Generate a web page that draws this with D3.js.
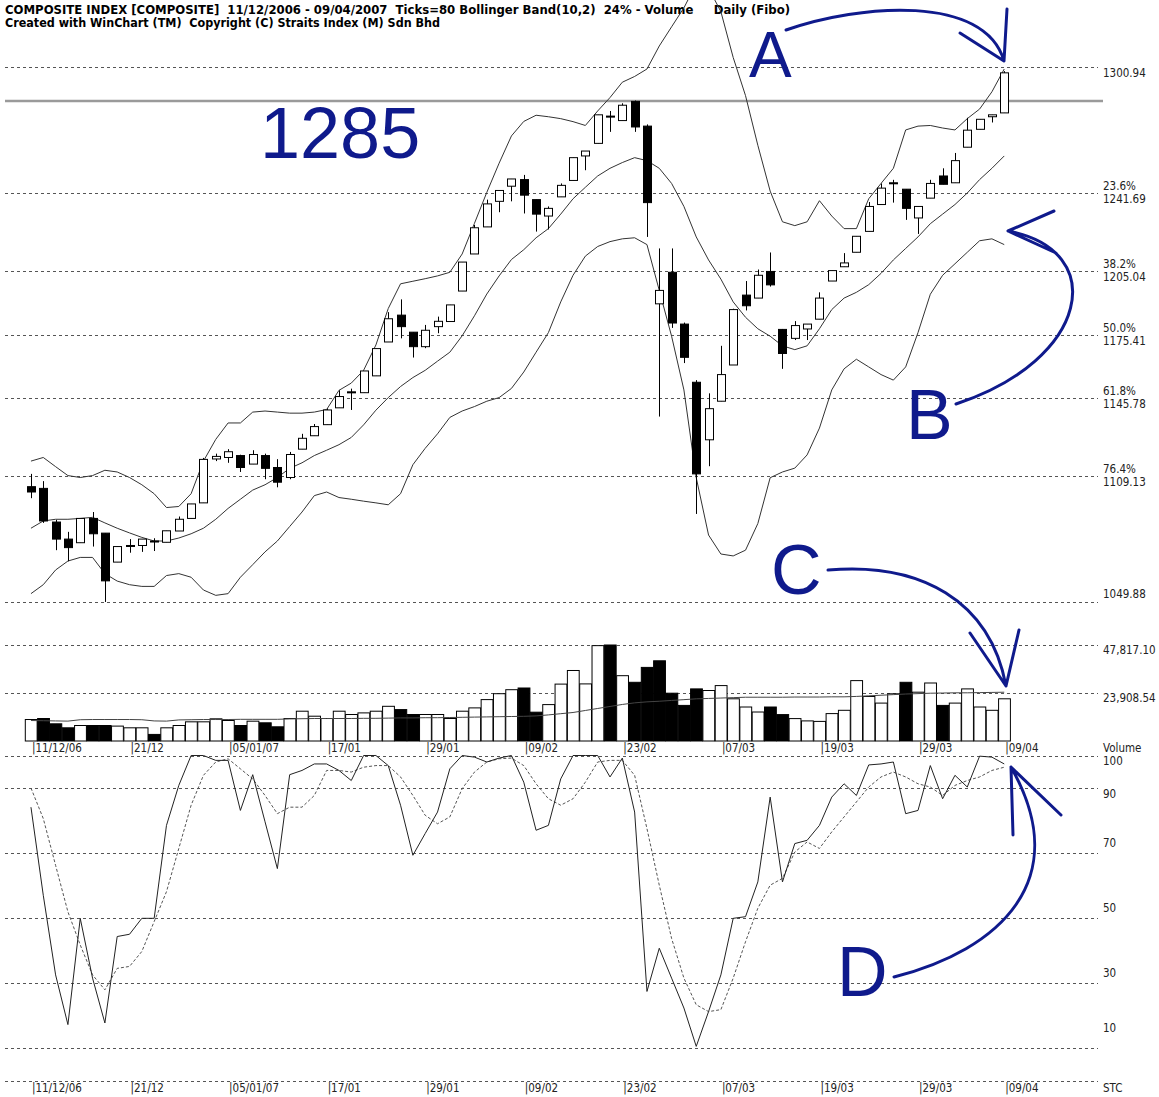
<!DOCTYPE html>
<html>
<head>
<meta charset="utf-8">
<script src="https://cdn.jsdelivr.net/npm/d3@7"></script>
<style>
body { margin: 0; background: #fff; }
svg { display: block; }
.lbl { font-family: "DejaVu Sans Condensed", "DejaVu Sans", sans-serif; font-stretch: condensed; font-size: 11.5px; fill: #222; }
.hdr { font-family: "DejaVu Sans Condensed", "DejaVu Sans", sans-serif; font-stretch: condensed; font-weight: bold; font-size: 11.5px; fill: #000; white-space: pre; }
.note { font-family: "Liberation Sans", Arial, sans-serif; fill: #0f1a8c; }
</style>
</head>
<body>
<script>
// trading days shown on the chart
var dates = ["2006-12-11","2006-12-12","2006-12-13","2006-12-14","2006-12-15","2006-12-18","2006-12-19","2006-12-20","2006-12-21","2006-12-22",
  "2006-12-26","2006-12-27","2006-12-28","2006-12-29","2007-01-03","2007-01-04","2007-01-05","2007-01-08","2007-01-09","2007-01-10",
  "2007-01-11","2007-01-12","2007-01-15","2007-01-16","2007-01-17","2007-01-18","2007-01-19","2007-01-22","2007-01-23","2007-01-24",
  "2007-01-25","2007-01-26","2007-01-29","2007-01-30","2007-01-31","2007-02-02","2007-02-05","2007-02-06","2007-02-07","2007-02-08",
  "2007-02-09","2007-02-12","2007-02-13","2007-02-14","2007-02-15","2007-02-16","2007-02-21","2007-02-22","2007-02-23","2007-02-26",
  "2007-02-27","2007-02-28","2007-03-01","2007-03-02","2007-03-05","2007-03-06","2007-03-07","2007-03-08","2007-03-09","2007-03-12",
  "2007-03-13","2007-03-14","2007-03-15","2007-03-16","2007-03-19","2007-03-20","2007-03-21","2007-03-22","2007-03-23","2007-03-26",
  "2007-03-27","2007-03-28","2007-03-29","2007-03-30","2007-04-02","2007-04-03","2007-04-04","2007-04-05","2007-04-06","2007-04-09"];

var open = [1104.0,1103.2,1087.4,1079.4,1077.7,1089.1,1082.2,1068.6,1076.0,1076.4,
  1078.5,1077.9,1083.2,1089.1,1096.4,1117.0,1117.7,1118.6,1114.6,1118.6,
  1113.0,1108.3,1121.6,1127.9,1133.1,1141.0,1148.5,1148.1,1156.0,1171.9,
  1184.5,1176.5,1169.7,1179.1,1181.5,1195.8,1213.2,1225.9,1237.9,1245.0,
  1248.1,1238.7,1231.0,1240.0,1247.7,1259.2,1265.1,1277.9,1275.8,1284.8,
  1273.2,1189.8,1204.6,1180.3,1153.0,1126.0,1144.1,1161.1,1193.9,1192.5,
  1205.0,1177.8,1173.6,1178.0,1182.6,1200.5,1207.2,1214.0,1223.8,1236.4,
  1246.6,1243.6,1230.1,1239.4,1249.8,1246.6,1263.3,1271.7,1277.6,1279.4];
var high = [1110.0,1106.6,1088.4,1082.8,1089.1,1092.1,1082.2,1075.9,1079.4,1079.4,
  1079.8,1083.3,1090.0,1095.9,1117.5,1119.5,1121.6,1119.0,1121.1,1119.5,
  1116.9,1120.3,1128.8,1133.4,1140.7,1149.2,1150.0,1158.3,1168.8,1185.9,
  1191.9,1176.5,1179.9,1183.8,1189.3,1209.4,1226.8,1238.7,1243.0,1248.4,
  1250.3,1238.7,1235.5,1246.3,1258.4,1261.5,1278.5,1280.3,1283.9,1285.2,
  1274.0,1215.8,1215.8,1181.0,1154.0,1147.8,1170.1,1187.5,1200.5,1205.9,
  1213.9,1178.0,1181.7,1180.3,1195.2,1205.4,1213.6,1221.5,1237.6,1246.3,
  1248.0,1243.6,1235.5,1248.0,1253.4,1260.6,1277.1,1276.4,1278.5,1299.0];
var low = [1098.6,1087.0,1074.2,1069.0,1077.7,1075.9,1049.9,1068.6,1073.0,1073.4,
  1073.8,1077.9,1083.2,1089.1,1096.4,1116.0,1115.2,1110.9,1114.6,1107.5,
  1103.7,1107.5,1121.6,1127.9,1133.1,1141.0,1140.0,1148.1,1156.0,1171.9,
  1173.6,1164.6,1169.0,1176.0,1181.5,1195.8,1213.2,1225.9,1232.8,1237.9,
  1232.2,1223.7,1224.7,1240.0,1247.7,1252.5,1265.1,1270.5,1275.8,1270.5,
  1221.2,1136.9,1178.5,1162.0,1091.2,1113.6,1144.1,1161.1,1186.7,1192.5,
  1197.9,1159.3,1172.8,1172.8,1182.6,1200.5,1207.2,1214.0,1223.8,1236.4,
  1237.3,1229.2,1222.6,1239.4,1245.9,1246.6,1263.3,1271.7,1274.9,1279.4];
var close = [1101.5,1087.9,1079.4,1075.4,1089.1,1081.9,1059.8,1075.9,1076.4,1079.4,
  1078.2,1083.3,1088.7,1095.9,1116.8,1118.2,1120.4,1113.0,1119.1,1112.6,
  1106.1,1119.1,1126.7,1132.2,1140.0,1146.3,1148.2,1158.3,1168.8,1182.8,
  1179.1,1169.7,1177.4,1181.6,1189.3,1209.4,1225.5,1236.7,1243.0,1248.4,
  1240.8,1231.9,1234.6,1245.4,1258.4,1261.5,1278.5,1277.6,1283.0,1272.8,
  1237.3,1196.1,1180.8,1164.7,1110.0,1140.6,1156.6,1187.1,1188.9,1203.2,
  1198.7,1166.5,1179.6,1180.3,1192.5,1205.4,1209.0,1221.5,1235.5,1244.1,
  1246.4,1234.6,1235.5,1246.3,1245.9,1257.0,1271.3,1276.4,1278.5,1298.2];

// Bollinger Band (10,2)
var bbUpper = [1116.0,1117.7,1113.4,1109.2,1108.3,1109.2,1111.7,1110.9,1108.3,1104.9,
  1100.7,1094.2,1094.7,1100.7,1116.0,1126.2,1133.9,1133.9,1139.0,1139.5,
  1139.0,1138.5,1138.5,1139.0,1140.2,1149.2,1152.6,1158.6,1170.5,1187.6,
  1199.2,1200.4,1201.6,1202.9,1204.6,1213.2,1227.6,1242.1,1255.8,1268.6,
  1275.4,1278.3,1277.6,1276.7,1275.3,1273.5,1280.3,1286.6,1293.8,1296.5,
  1300.0,1310.8,1319.8,1328.7,1340.0,1338.0,1326.9,1305.4,1287.5,1264.2,
  1242.7,1228.3,1226.5,1228.3,1238.2,1231.0,1225.1,1225.1,1239.1,1246.3,
  1253.4,1271.4,1273.2,1273.5,1272.3,1271.4,1276.7,1281.2,1289.3,1300.0];
var bbMid = [1084.5,1087.9,1088.7,1088.7,1089.1,1089.6,1087.0,1084.5,1082.3,1080.2,
  1078.5,1078.5,1079.9,1081.9,1084.5,1088.7,1093.8,1098.1,1102.4,1104.9,
  1108.3,1112.6,1115.2,1118.6,1121.1,1123.7,1127.1,1133.0,1139.9,1145.8,
  1151.0,1155.2,1158.6,1162.9,1167.1,1174.8,1184.2,1194.4,1202.9,1210.6,
  1215.2,1220.8,1225.1,1231.9,1239.1,1244.5,1249.8,1253.4,1256.1,1258.4,
  1257.0,1253.4,1246.3,1235.5,1221.2,1210.4,1201.4,1190.7,1183.5,1178.1,
  1174.6,1170.1,1168.3,1170.1,1178.1,1187.1,1192.5,1195.2,1198.8,1204.1,
  1210.4,1215.8,1221.2,1227.4,1231.9,1236.4,1241.8,1248.1,1253.4,1259.2];
var bbLower = [1053.8,1058.0,1064.9,1069.1,1070.8,1070.8,1063.2,1059.7,1058.0,1057.2,
  1057.2,1062.3,1063.2,1061.5,1055.5,1053.0,1053.8,1061.5,1067.4,1073.4,
  1078.5,1085.3,1092.1,1099.8,1101.5,1098.9,1098.1,1097.2,1096.4,1095.5,
  1100.7,1114.3,1122.0,1128.8,1136.5,1139.5,1141.6,1144.1,1145.8,1150.1,
  1157.8,1167.1,1176.3,1190.7,1203.2,1212.2,1216.7,1219.0,1220.3,1220.8,
  1217.6,1196.1,1174.6,1149.4,1108.2,1081.3,1072.4,1071.5,1074.2,1086.7,
  1108.2,1110.9,1112.7,1118.9,1131.5,1149.4,1159.3,1163.8,1160.2,1156.6,
  1154.0,1160.2,1176.3,1194.3,1203.2,1208.6,1214.0,1219.4,1220.3,1217.6];

var volume = [10700,11200,8560,6570,7720,7720,7720,7420,6570,6570,
  3280,6570,7720,9550,9550,11050,10210,7720,9870,9060,
  7070,11200,14840,12350,11200,14840,13200,14000,14840,17280,
  15640,13200,13200,13200,11200,14840,16490,20620,23560,25550,
  26400,14350,18130,28340,35120,28440,47500,47817,32530,29240,
  36660,39950,23810,17730,25950,25150,27600,21020,16930,14440,
  16930,13150,11160,10010,9760,13650,15290,30080,22170,18880,
  23510,29240,24310,28890,17730,18880,25950,16930,15290,21020];
var volumeMA = [10200,10100,10000,9900,10600,10700,10700,10700,10700,10600,
  10000,9900,10500,10600,10700,10700,10700,10800,10800,10800,
  10800,11000,11100,11200,11200,11200,11200,11300,11300,11400,
  11500,11500,11600,11600,11700,11800,11900,12000,12100,12200,
  12300,12500,13000,13600,14200,15200,16200,17200,18200,19000,
  19500,19800,20200,20600,21000,21200,21400,21600,21800,21800,
  21800,21800,21900,21900,21900,22000,22000,22200,22500,22800,
  23100,23400,23600,23800,23900,24000,24000,24100,24200,24300];

// STC (stochastic) %K and %D
var stcK = [84.1,57.0,32.5,17.2,49.9,31.5,17.7,44.3,45.0,49.9,
  49.9,78.5,90.8,100,100,98.5,98.5,83.1,94.1,79.6,
  65.2,94.1,95.4,97.4,97.4,95.4,92.3,100,100,96.9,
  84.7,69.3,76.0,82.6,95.9,100,99.5,98.0,99.2,100,
  91.8,77.0,78.5,92.8,100,100,100,93.4,99.2,82.6,
  27.4,40.7,31.5,22.3,10.5,21.2,32.5,49.9,50.4,61.1,
  87.2,61.1,72.9,73.9,78.5,87.2,91.3,87.7,97.1,97.4,
  98.0,82.1,83.1,96.9,86.7,93.9,90.3,99.8,99.5,97.4];
var stcD = [90.0,80.6,66.2,51.9,41.7,32.5,27.9,34.5,35.1,39.7,
  48.9,58.1,71.4,84.7,93.9,98.0,99.0,95.9,92.8,87.7,
  82.1,84.1,84.1,87.7,95.4,95.4,94.9,96.4,96.9,96.9,
  93.4,87.7,81.6,79.0,81.1,89.8,94.9,98.0,99.0,99.2,
  96.9,91.3,86.7,84.7,86.7,91.8,98.0,98.5,98.5,93.9,
  77.5,60.1,43.7,31.5,23.3,21.2,21.8,31.5,42.7,53.0,
  60.1,62.2,70.3,73.4,71.4,76.5,81.1,85.7,90.3,93.4,
  94.9,93.4,91.3,90.3,87.7,90.8,92.3,93.4,95.4,96.4];

var priceLevels = [1300.94, 1241.69, 1205.04, 1175.41, 1145.78, 1109.13, 1049.88];
var fiboPct = ["", "23.6%", "38.2%", "50.0%", "61.8%", "76.4%", ""];
var volLevels = [47817.10, 23908.54];
var volLevelText = ["47,817.10", "23,908.54"];
var stcLevels = [100, 90, 70, 50, 30, 10];
var tickDates = ["2006-12-11","2006-12-21","2007-01-05","2007-01-17","2007-01-29","2007-02-09","2007-02-23","2007-03-07","2007-03-19","2007-03-29","2007-04-09"];
var tickLabels = ["11/12/06","21/12","05/01/07","17/01","29/01","09/02","23/02","07/03","19/03","29/03","09/04"];
var markLevel = 1285;

var width = 1159, height = 1097;
var gridLeft = 5, gridRight = 1098, labelX = 1103;

var svg = d3.select("body").append("svg")
  .attr("width", width)
  .attr("height", height);

var x = d3.scaleBand().domain(dates).range([24.8, 1010.4]);
var bw = x.bandwidth();
function cx(d) { return x(d) + bw / 2; }

var yP = d3.scaleLinear().domain([1049.88, 1300.94]).range([602, 67]);
var yV = d3.scaleLinear().domain([0, 47817.10]).range([741, 645]);
var yS = d3.scaleLinear().domain([0, 100]).range([1080.5, 755.5]);

function hline(v, y) {
  var yy = Math.round(y) + 0.5;
  svg.append("line")
    .attr("x1", gridLeft).attr("x2", gridRight)
    .attr("y1", yy).attr("y2", yy)
    .attr("stroke", "#555")
    .attr("stroke-dasharray", "3,3");
}

// header
svg.append("text").attr("class", "hdr").attr("x", 5).attr("y", 14)
  .attr("xml:space", "preserve")
  .attr("textLength", 785).attr("lengthAdjust", "spacingAndGlyphs")
  .text("COMPOSITE INDEX [COMPOSITE]  11/12/2006 - 09/04/2007  Ticks=80 Bollinger Band(10,2)  24% - Volume     Daily (Fibo)");
svg.append("text").attr("class", "hdr").attr("x", 5).attr("y", 27)
  .attr("xml:space", "preserve")
  .attr("textLength", 435).attr("lengthAdjust", "spacingAndGlyphs")
  .text("Created with WinChart (TM)  Copyright (C) Straits Index (M) Sdn Bhd");

// price grid + fibo labels
priceLevels.forEach(function(v, i) {
  var y = yP(v);
  hline(v, y);
  if (i == priceLevels.length - 1) {
    svg.append("text").attr("class", "lbl").attr("x", labelX).attr("y", y - 4).text(v.toFixed(2));
  } else {
    if (fiboPct[i]) svg.append("text").attr("class", "lbl").attr("x", labelX).attr("y", y - 3).text(fiboPct[i]);
    svg.append("text").attr("class", "lbl").attr("x", labelX).attr("y", y + 10).text(v.toFixed(2));
  }
});

// 1285 resistance
svg.append("line")
  .attr("x1", gridLeft).attr("x2", labelX)
  .attr("y1", yP(markLevel)).attr("y2", yP(markLevel))
  .attr("stroke", "#9a9a9a").attr("stroke-width", 2.5);

// bollinger bands
var idx = d3.range(dates.length);
[bbUpper, bbMid, bbLower].forEach(function(s) {
  svg.append("path")
    .datum(idx)
    .attr("fill", "none")
    .attr("stroke", "#333")
    .attr("stroke-width", 1)
    .attr("d", d3.line().x(function(i) { return cx(dates[i]); }).y(function(i) { return yP(s[i]); }));
});

// candles
var candles = svg.append("g").selectAll("g").data(idx).enter().append("g");
candles.append("line")
  .attr("x1", function(i) { return Math.round(cx(dates[i])) + 0.5; })
  .attr("x2", function(i) { return Math.round(cx(dates[i])) + 0.5; })
  .attr("y1", function(i) { return yP(high[i]); })
  .attr("y2", function(i) { return yP(low[i]); })
  .attr("stroke", "#000");
candles.append("rect")
  .attr("x", function(i) { return Math.round(cx(dates[i])) - 3.5; })
  .attr("width", 8)
  .attr("y", function(i) { return yP(Math.max(open[i], close[i])); })
  .attr("height", function(i) { return Math.max(1, Math.abs(yP(open[i]) - yP(close[i]))); })
  .attr("fill", function(i) { return close[i] < open[i] ? "#000" : "#fff"; })
  .attr("stroke", "#000")
  .attr("stroke-width", 1);

// volume panel
volLevels.forEach(function(v, i) {
  hline(v, yV(v));
  svg.append("text").attr("class", "lbl").attr("x", labelX).attr("y", yV(v) + 9).text(volLevelText[i]);
});
svg.append("g").selectAll("rect").data(idx).enter().append("rect")
  .attr("x", function(i) { return x(dates[i]) + 0.5; })
  .attr("width", bw - 0.5)
  .attr("y", function(i) { return yV(volume[i]); })
  .attr("height", function(i) { return yV(0) - yV(volume[i]); })
  .attr("fill", function(i) { return i > 0 && close[i] < close[i - 1] ? "#000" : "#fff"; })
  .attr("stroke", "#000")
  .attr("stroke-width", 1);
svg.append("path")
  .datum(idx)
  .attr("fill", "none")
  .attr("stroke", "#444")
  .attr("d", d3.line().x(function(i) { return cx(dates[i]); }).y(function(i) { return yV(volumeMA[i]); }));

// date ticks (under volume and at bottom)
function dateLabels(yBase) {
  svg.append("g").selectAll("text").data(tickDates).enter().append("text")
    .attr("class", "lbl")
    .attr("x", function(d) { return cx(d) + 1; })
    .attr("y", yBase)
    .text(function(d, i) { return "|" + tickLabels[i]; });
}
dateLabels(752);
svg.append("text").attr("class", "lbl").attr("x", labelX).attr("y", 752).text("Volume");

// STC panel
var stcDy = [9.5, 10, -6, -6, -6, -16];
stcLevels.forEach(function(v, i) {
  hline(v, yS(v));
  svg.append("text").attr("class", "lbl").attr("x", labelX).attr("y", yS(v) + stcDy[i]).text(v);
});
hline(0, yS(0));
svg.append("path")
  .datum(idx)
  .attr("fill", "none")
  .attr("stroke", "#555")
  .attr("stroke-dasharray", "3,2")
  .attr("d", d3.line().x(function(i) { return cx(dates[i]); }).y(function(i) { return yS(stcD[i]); }));
svg.append("path")
  .datum(idx)
  .attr("fill", "none")
  .attr("stroke", "#222")
  .attr("d", d3.line().x(function(i) { return cx(dates[i]); }).y(function(i) { return yS(stcK[i]); }));
dateLabels(1092);
svg.append("text").attr("class", "lbl").attr("x", labelX).attr("y", 1092).text("STC");

// hand-drawn notes
var notes = svg.append("g");
notes.append("text").attr("class", "note").attr("x", 260).attr("y", 158).style("font-size", "72px").text("1285");
notes.append("text").attr("class", "note").attr("x", 749).attr("y", 77).style("font-size", "64px").text("A");
notes.append("text").attr("class", "note").attr("x", 906).attr("y", 439).style("font-size", "70px").text("B");
notes.append("text").attr("class", "note").attr("x", 771).attr("y", 594).style("font-size", "70px").text("C");
notes.append("text").attr("class", "note").attr("x", 837).attr("y", 996).style("font-size", "70px").text("D");

var arrows = [
  "M786,30 C860,4 985,-6 1004,61 M960,33 L1004,61 L1007,9",
  "M956,404 C1090,360 1110,250 1008,231 M1054,211 L1008,231 L1056,253",
  "M828,570 C920,562 990,600 1006,686 M970,633 L1006,686 L1019,630",
  "M894,977 C1000,950 1075,880 1011,767 M1013,835 L1011,767 L1061,815"
];
notes.selectAll("path").data(arrows).enter().append("path")
  .attr("d", function(d) { return d; })
  .attr("fill", "none")
  .attr("stroke", "#0f1a8c")
  .attr("stroke-width", 3)
  .attr("stroke-linecap", "round")
  .attr("stroke-linejoin", "round");
</script>
</body>
</html>
